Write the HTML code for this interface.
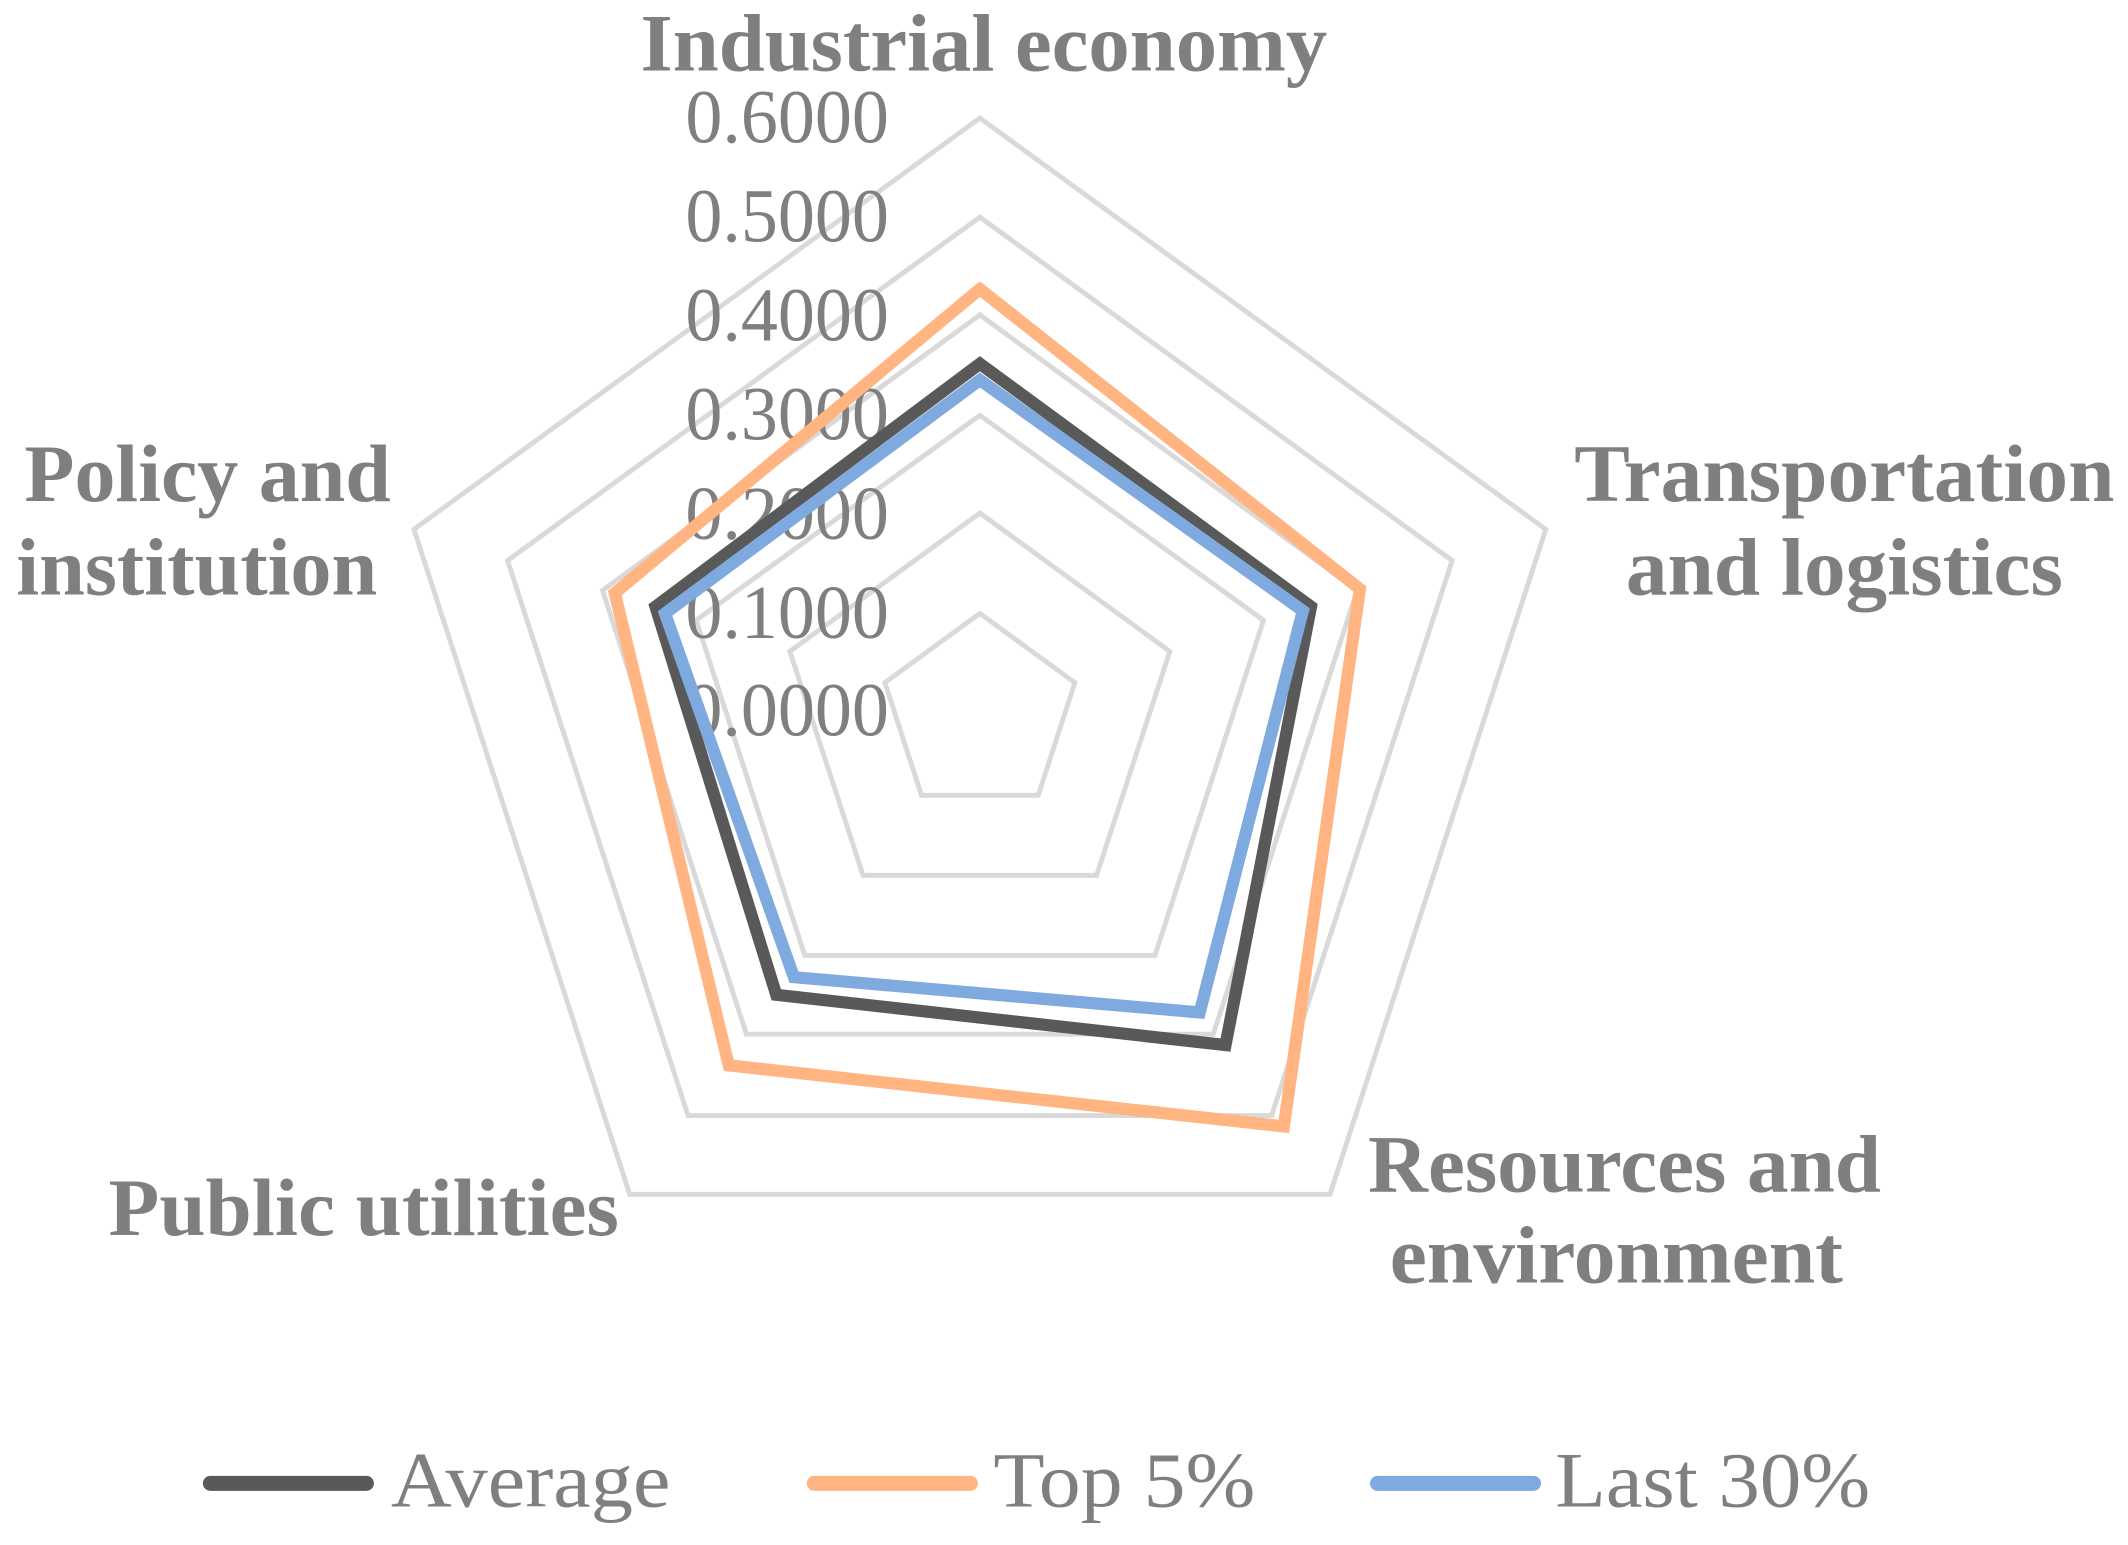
<!DOCTYPE html>
<html><head><meta charset="utf-8"><style>html,body{margin:0;padding:0;background:#fff;}svg{display:block;}</style></head>
<body>
<svg width="2128" height="1545" viewBox="0 0 1568 1138.4" preserveAspectRatio="none" xmlns="http://www.w3.org/2000/svg">
<g fill="none" stroke="#d9d9d9" stroke-width="3.6" stroke-linejoin="miter">
<polygon points="722,87 1139,390 980,880 464,880 305,390"/>
<polygon points="722,160 1070,413 937,822 507,822 374,413"/>
<polygon points="722,232 1000,435 894,762 550,762 444,435"/>
<polygon points="722,306 931,457 851,704 593,704 513,457"/>
<polygon points="722,378 862,480 808,645 636,645 582,480"/>
<polygon points="722,452 792,503 765,586 679,586 652,503"/>
</g>
<g font-family="Liberation Serif, serif" fill="#7f7f7f" font-size="56" text-anchor="end">
<text x="655" y="105" textLength="150" lengthAdjust="spacingAndGlyphs">0.6000</text>
<text x="655" y="178" textLength="150" lengthAdjust="spacingAndGlyphs">0.5000</text>
<text x="655" y="251" textLength="150" lengthAdjust="spacingAndGlyphs">0.4000</text>
<text x="655" y="324" textLength="150" lengthAdjust="spacingAndGlyphs">0.3000</text>
<text x="655" y="397" textLength="150" lengthAdjust="spacingAndGlyphs">0.2000</text>
<text x="655" y="470" textLength="150" lengthAdjust="spacingAndGlyphs">0.1000</text>
<text x="655" y="542" textLength="150" lengthAdjust="spacingAndGlyphs">0.0000</text>
</g>
<g fill="none" stroke-width="9" stroke-linejoin="miter">
<polygon stroke="#ffb482" points="722,213 1002,434 946,830 537,785 453,437"/>
<polygon stroke="#595959" points="722,268 966,447 903,770 572,733 483,447"/>
<polygon stroke="#7faadf" points="722,280 960,450 884,746 585,720 490,452"/>
</g>
<g font-family="Liberation Serif, serif" font-weight="bold" fill="#7f7f7f" font-size="60">
<text x="472" y="52" textLength="506" lengthAdjust="spacingAndGlyphs">Industrial economy</text>
<text x="18" y="369" textLength="270" lengthAdjust="spacingAndGlyphs">Policy and</text>
<text x="12" y="438" textLength="266" lengthAdjust="spacingAndGlyphs">institution</text>
<text x="1160" y="369" textLength="398" lengthAdjust="spacingAndGlyphs">Transportation</text>
<text x="1198" y="438" textLength="322" lengthAdjust="spacingAndGlyphs">and logistics</text>
<text x="1008" y="878" textLength="378" lengthAdjust="spacingAndGlyphs">Resources and</text>
<text x="1024" y="945" textLength="334" lengthAdjust="spacingAndGlyphs">environment</text>
<text x="80" y="910" textLength="376" lengthAdjust="spacingAndGlyphs">Public utilities</text>
</g>
<g stroke-width="11" stroke-linecap="round">
<line x1="155" y1="1093" x2="270" y2="1093" stroke="#595959"/>
<line x1="600" y1="1093" x2="715" y2="1093" stroke="#ffb482"/>
<line x1="1015" y1="1093" x2="1130" y2="1093" stroke="#7faadf"/>
</g>
<g font-family="Liberation Serif, serif" fill="#7f7f7f" font-size="58">
<text x="288" y="1110" textLength="206" lengthAdjust="spacingAndGlyphs">Average</text>
<text x="732" y="1110" textLength="193" lengthAdjust="spacingAndGlyphs">Top 5%</text>
<text x="1146" y="1110" textLength="232" lengthAdjust="spacingAndGlyphs">Last 30%</text>
</g>
</svg>
</body></html>
